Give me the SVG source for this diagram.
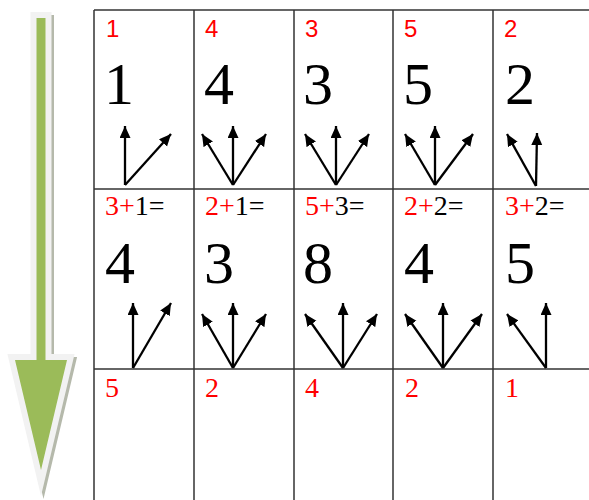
<svg xmlns="http://www.w3.org/2000/svg" width="589" height="500" viewBox="0 0 589 500">
<style>
.grid{stroke:#333;stroke-width:1.5;fill:none}
.big{font-size:60px;fill:#000}
.r1{font-size:24px;fill:#ff0000}
.lbl{font-size:28px;fill:#000}
.red{fill:#ff0000}
.r3{font-size:28px;fill:#ff0000}
.arr line{stroke:#000;stroke-width:2.3;marker-end:url(#ah)}
</style>
<defs>
<marker id="ah" markerUnits="userSpaceOnUse" markerWidth="14" markerHeight="12" refX="12" refY="5.5" orient="auto">
<path d="M0,0 L12,5.5 L0,11 z" fill="#000"/>
</marker>
</defs>
<rect width="589" height="500" fill="#fff"/>
<g id="flow-arrow">
<polygon points="36.5,18 45.5,18 45.5,360 67,360 41,470 15,360 36.5,360" transform="translate(2.5,3)" fill="#a3a897" stroke="#a3a897" stroke-width="12" stroke-miterlimit="20" opacity="0.8"/>
<polygon points="36.5,18 45.5,18 45.5,360 67,360 41,470 15,360 36.5,360" fill="#9bbb59" stroke="#f2f2f2" stroke-width="12" stroke-miterlimit="20" paint-order="stroke"/>
</g>
<g id="grid" class="grid">
<line x1="94" y1="10" x2="589" y2="10"/>
<line x1="94" y1="189" x2="589" y2="189"/>
<line x1="94" y1="369" x2="589" y2="369"/>
<line x1="94" y1="10" x2="94" y2="500"/>
<line x1="194" y1="10" x2="194" y2="500"/>
<line x1="294" y1="10" x2="294" y2="500"/>
<line x1="393" y1="10" x2="393" y2="500"/>
<line x1="493" y1="10" x2="493" y2="500"/>
</g>
<g font-family="'Liberation Serif', 'Times New Roman', serif">
<g id="cell-r1c1"><text class="r1" font-family="'Liberation Sans', Arial, sans-serif" x="106" y="37">1</text><text class="big" x="104" y="104">1</text></g>
<g id="cell-r1c2"><text class="r1" font-family="'Liberation Sans', Arial, sans-serif" x="205" y="37">4</text><text class="big" x="204" y="104">4</text></g>
<g id="cell-r1c3"><text class="r1" font-family="'Liberation Sans', Arial, sans-serif" x="305" y="37">3</text><text class="big" x="303" y="104">3</text></g>
<g id="cell-r1c4"><text class="r1" font-family="'Liberation Sans', Arial, sans-serif" x="404" y="37">5</text><text class="big" x="403" y="104">5</text></g>
<g id="cell-r1c5"><text class="r1" font-family="'Liberation Sans', Arial, sans-serif" x="504" y="37">2</text><text class="big" x="505" y="104">2</text></g>
<g id="cell-r2c1"><text class="lbl" x="105" y="215"><tspan class="red">3+</tspan>1=</text><text class="big" x="105" y="283">4</text></g>
<g id="cell-r2c2"><text class="lbl" x="205" y="215"><tspan class="red">2+</tspan>1=</text><text class="big" x="204" y="283">3</text></g>
<g id="cell-r2c3"><text class="lbl" x="305" y="215"><tspan class="red">5+</tspan>3=</text><text class="big" x="303" y="283">8</text></g>
<g id="cell-r2c4"><text class="lbl" x="404" y="215"><tspan class="red">2+</tspan>2=</text><text class="big" x="404" y="283">4</text></g>
<g id="cell-r2c5"><text class="lbl" x="505" y="215"><tspan class="red">3+</tspan>2=</text><text class="big" x="505" y="283">5</text></g>
<g id="cell-r3c1"><text class="r3" x="105" y="397">5</text></g>
<g id="cell-r3c2"><text class="r3" x="205" y="397">2</text></g>
<g id="cell-r3c3"><text class="r3" x="305" y="397">4</text></g>
<g id="cell-r3c4"><text class="r3" x="405" y="397">2</text></g>
<g id="cell-r3c5"><text class="r3" x="505" y="397">1</text></g>
</g>
<g id="connectors" class="arr">
<line x1="125" y1="185" x2="125" y2="126"/>
<line x1="125" y1="185" x2="171" y2="134"/>
<line x1="233" y1="185" x2="202" y2="134"/>
<line x1="233" y1="185" x2="233" y2="126"/>
<line x1="233" y1="185" x2="266" y2="134"/>
<line x1="336" y1="185" x2="305" y2="134"/>
<line x1="336" y1="185" x2="336" y2="126"/>
<line x1="336" y1="185" x2="369" y2="134"/>
<line x1="435" y1="185" x2="405" y2="134"/>
<line x1="435" y1="185" x2="435" y2="126"/>
<line x1="435" y1="185" x2="473" y2="134"/>
<line x1="536" y1="186" x2="507" y2="134"/>
<line x1="536" y1="186" x2="537" y2="133"/>
<line x1="133" y1="368" x2="133" y2="303"/>
<line x1="133" y1="368" x2="171" y2="303"/>
<line x1="233" y1="368" x2="202" y2="314"/>
<line x1="233" y1="368" x2="233" y2="303"/>
<line x1="233" y1="368" x2="266" y2="314"/>
<line x1="343" y1="368" x2="305" y2="314"/>
<line x1="343" y1="368" x2="343" y2="303"/>
<line x1="343" y1="368" x2="377" y2="314"/>
<line x1="443" y1="368" x2="405" y2="314"/>
<line x1="443" y1="368" x2="443" y2="303"/>
<line x1="443" y1="368" x2="482" y2="314"/>
<line x1="546" y1="368" x2="507" y2="314"/>
<line x1="546" y1="368" x2="546" y2="303"/>
</g>
</svg>
